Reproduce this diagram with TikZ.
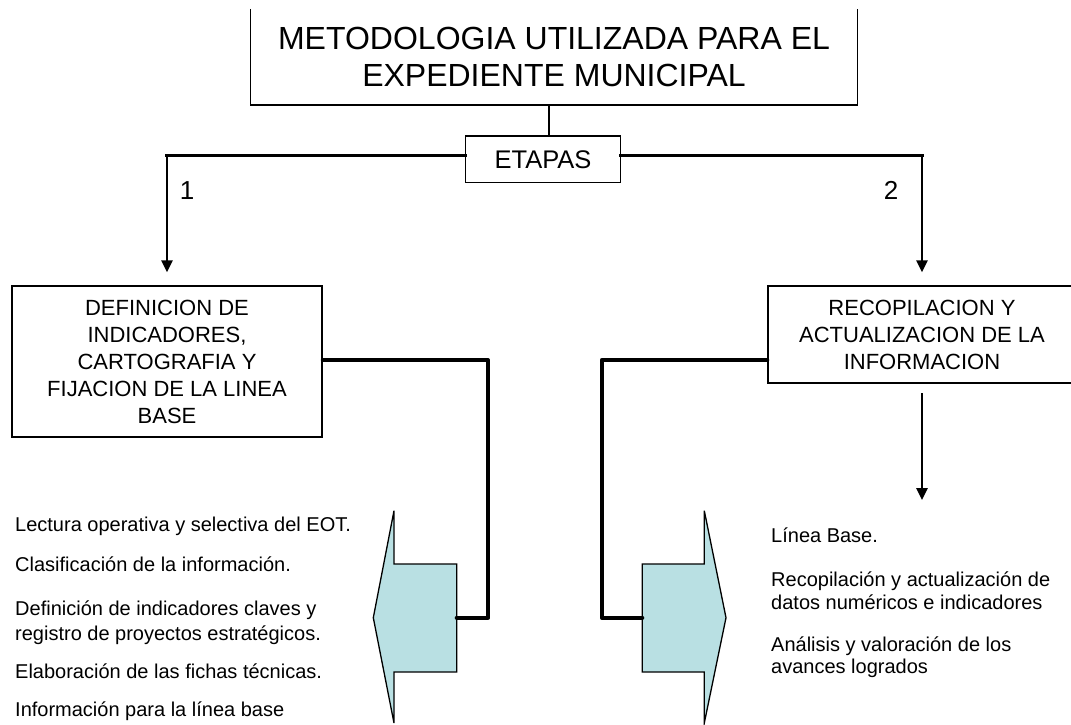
\documentclass[tikz,border=0pt]{standalone}
\usepackage{fontspec}
\setmainfont{Liberation Sans}
\usetikzlibrary{arrows.meta,calc}
\definecolor{arrowfill}{RGB}{185,224,227}
\begin{document}
\begin{tikzpicture}[x=1pt,y=-1pt,
 boxline/.style={line width=1.5pt},
 tbox/.style={draw,line width=1.5pt,inner sep=0pt,align=center,font=\fontsize{22}{27}\selectfont},
 hbar/.style={line width=3.5pt,line cap=rect},
 varrow/.style={line width=2.6pt,-{Triangle[length=12pt,width=11pt]}},
 conn/.style={line width=4pt,line cap=round,line join=round},
 item/.style={anchor=base west,inner sep=0pt,font=\fontsize{20}{24}\selectfont},
 numlabel/.style={anchor=base,inner sep=0pt,font=\fontsize{26}{30}\selectfont},
 shapeline/.style={draw=black,line width=1.3pt,fill=arrowfill,line join=miter}]
\useasboundingbox (0,0) rectangle (1071,724);

% title
\node[inner sep=0pt, minimum width=606.5pt, minimum height=96pt, align=center,
      font=\fontsize{32}{37}\selectfont] (title) at (554,57) {METODOLOGIA UTILIZADA PARA EL\\EXPEDIENTE MUNICIPAL};
\draw[boxline] (title.north west) -- (title.south west) -- (title.south east) -- (title.north east);

% etapas
\node[tbox, minimum width=154.7pt, minimum height=46.7pt, font=\fontsize{25.5}{30}\selectfont] (etapas) at (543,159.3) {ETAPAS};
\coordinate (tv) at (549,0);
\draw[line width=1.3pt] (tv |- title.south) -- (tv |- etapas.north);

% stage boxes
\node[tbox, minimum width=310pt, minimum height=151pt] (defbox) at (167,361.5)
  {DEFINICION DE\\INDICADORES,\\CARTOGRAFIA Y\\FIJACION DE LA LINEA\\BASE};
\node[tbox, minimum width=308pt, minimum height=97pt] (recbox) at (922,334.5)
  {RECOPILACION Y\\ACTUALIZACION DE LA\\INFORMACION};

% branches
\coordinate (hl) at (0,155.5);
\coordinate (c1) at (defbox.north |- hl);
\coordinate (c2) at (recbox.north |- hl);
\draw[hbar] (etapas.west |- hl) -- (c1);
\draw[hbar] (etapas.east |- hl) -- (c2);
\draw[varrow, shorten >=13pt] (c1) -- (defbox.north);
\draw[varrow, shorten >=13pt] (c2) -- (recbox.north);
\node[numlabel] (n1) at (187,199) {1};
\node[numlabel] (n2) at (891,199) {2};

% arrow under right box
\coordinate (rdown) at (922,500);
\draw[varrow, shorten <=9.7pt] (recbox.south) -- (rdown);

% block arrows
\draw[shapeline] (373.3,617.7) -- (394,510.7) -- (394,564) -- (456.7,564) -- (456.7,672) -- (394,672) -- (394,723) -- cycle;
\coordinate (lend) at (456.7,617.7);
\draw[shapeline] (642.3,564) -- (704.3,564) -- (704.3,510.7) -- (726,617.7) -- (704.3,723) -- (704.3,672) -- (642.3,672) -- cycle;
\coordinate (rend) at (642.3,617.7);

% thick connectors
\coordinate (lyc) at (0,360);
\coordinate (lk) at (488,0);
\coordinate (rk) at (601.7,0);
\draw[conn] (defbox.east |- lyc) -| (lk |- lend) -- (lend);
\draw[conn] (recbox.west |- lyc) -| (rk |- rend) -- (rend);

% left list
\node[item] (l1) at (15,531.7) {Lectura operativa y selectiva del EOT.};
\node[item] (l2) at (15,571.7) {Clasificación de la información.};
\node[item] (l3) at (15,615) {Definición de indicadores claves y};
\node[item] (l4) at (15,640) {registro de proyectos estratégicos.};
\node[item] (l5) at (15,678.3) {Elaboración de las fichas técnicas.};
\node[item] (l6) at (15,716.7) {Información para la línea base};

% right list
\node[item] (r1) at (771,542) {Línea Base.};
\node[item] (r2) at (771,586) {Recopilación y actualización de};
\node[item] (r3) at (771,609) {datos numéricos e indicadores};
\node[item] (r4) at (771,651) {Análisis y valoración de los};
\node[item] (r5) at (771,673) {avances logrados};
\end{tikzpicture}
\end{document}
